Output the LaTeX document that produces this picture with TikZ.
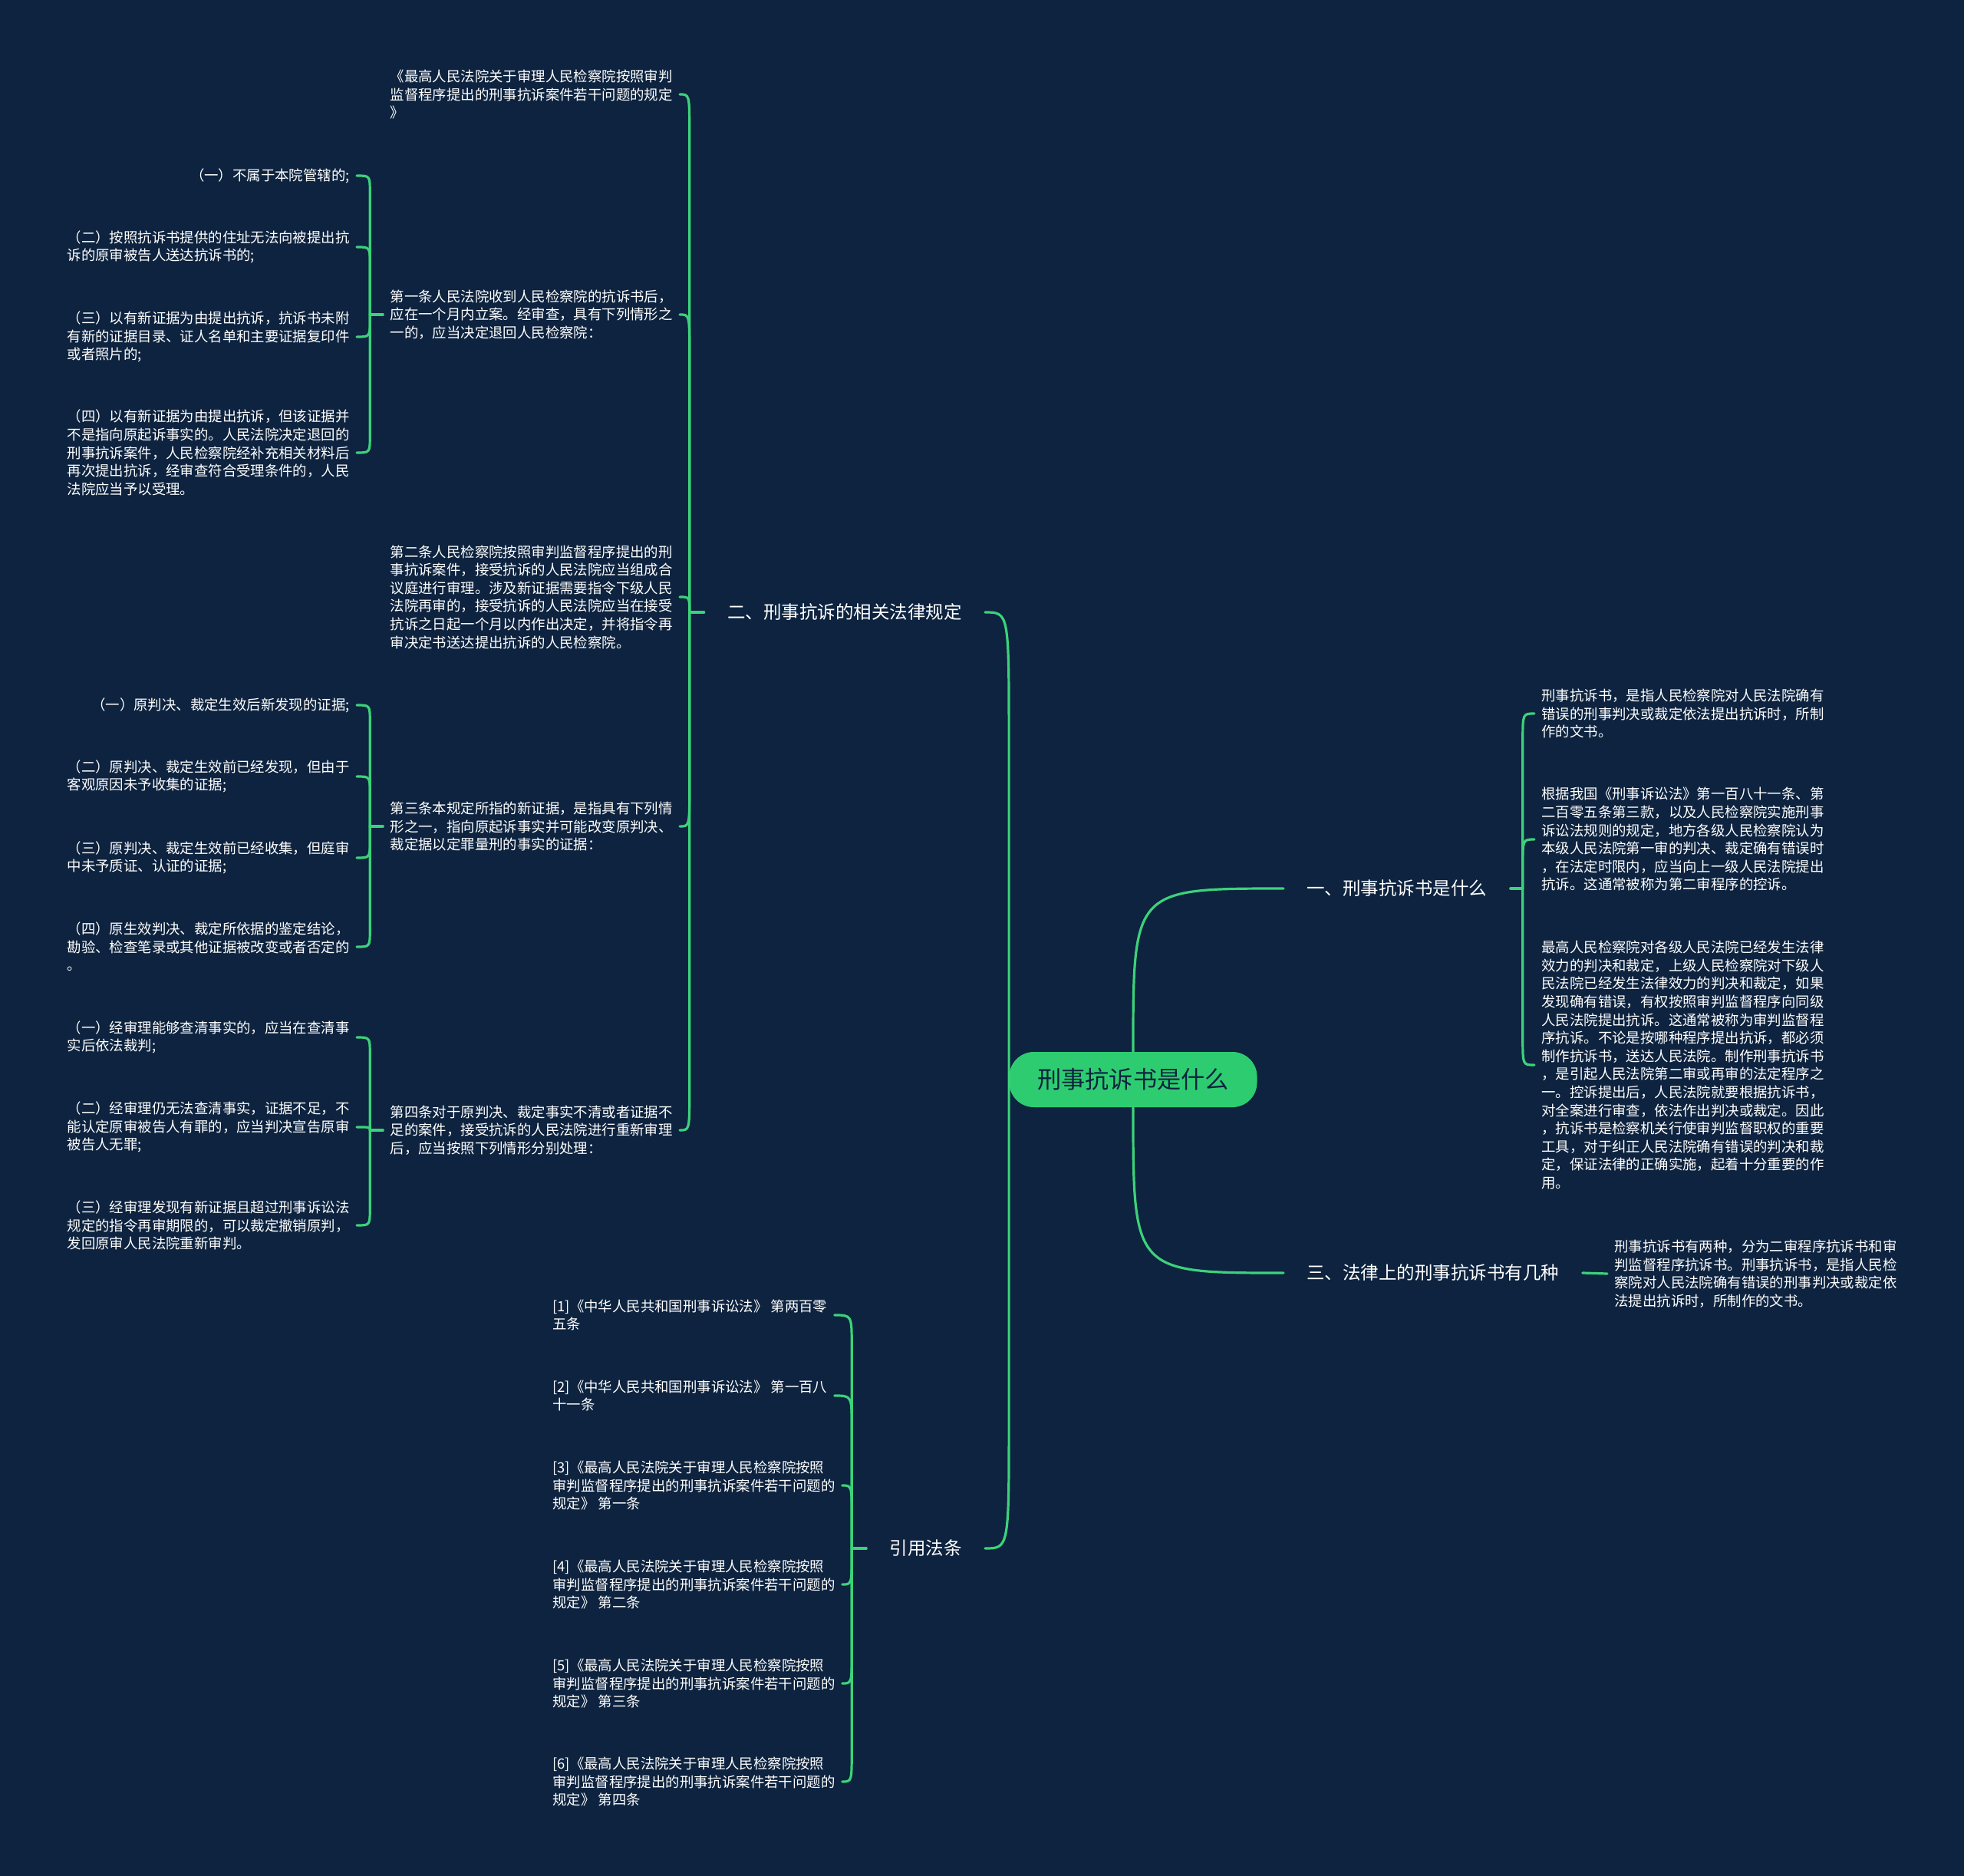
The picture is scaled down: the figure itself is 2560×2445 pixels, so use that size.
\documentclass[tikz,border=0pt]{standalone}
\usepackage{fontspec}
\setmainfont{Noto Sans CJK SC}
\usetikzlibrary{calc}
\definecolor{bgnavy}{RGB}{13,35,63}
\definecolor{linkgreen}{RGB}{60,210,122}
\definecolor{hubgreen}{RGB}{46,204,113}
\newcommand{\brlink}[3]{\draw[link] (#1) -- ($(#1 |- #2)+(0,#3)$) .. controls (#1 |- #2) .. (#2);}
\begin{document}
\begin{tikzpicture}[x=0.5pt,y=-0.5pt,
  link/.style={draw=linkgreen,line width=1.6pt,line cap=round},
  leaf/.style={text=white,align=left,inner xsep=4.5pt,inner ysep=2pt,font=\fontsize{9.2pt}{11.8pt}\selectfont},
  branch/.style={text=white,inner xsep=15pt,inner ysep=4pt,font=\fontsize{11.75pt}{14pt}\selectfont},
  hub/.style={fill=hubgreen,text=bgnavy,rounded corners=16pt,minimum width=161.5pt,minimum height=36pt,inner sep=0pt,font=\fontsize{15.6pt}{18pt}\selectfont}]
\fill[bgnavy] (0,0) rectangle (2560,2445);
\useasboundingbox (0,0) rectangle (2560,2445);

% hub and branches
\node[hub] (hub) at (1477,1407) {刑事抗诉书是什么};
\node[branch,anchor=east] (n2) at (1284,798) {二、刑事抗诉的相关法律规定};
\node[branch,anchor=east] (n4) at (1284,2018) {引用法条};
\node[branch,anchor=west] (n1) at (1673,1158) {一、刑事抗诉书是什么};
\node[branch,anchor=west] (n3) at (1673,1659) {三、法律上的刑事抗诉书有几种};

% branch 二 children
\node[leaf,anchor=east] (m0) at (886,123) {《最高人民法院关于审理人民检察院按照审判\\监督程序提出的刑事抗诉案件若干问题的规定\\》};
\node[leaf,anchor=east] (m1) at (886,410) {第一条人民法院收到人民检察院的抗诉书后，\\应在一个月内立案。经审查，具有下列情形之\\一的，应当决定退回人民检察院：};
\node[leaf,anchor=east] (m2) at (886,778) {第二条人民检察院按照审判监督程序提出的刑\\事抗诉案件，接受抗诉的人民法院应当组成合\\议庭进行审理。涉及新证据需要指令下级人民\\法院再审的，接受抗诉的人民法院应当在接受\\抗诉之日起一个月以内作出决定，并将指令再\\审决定书送达提出抗诉的人民检察院。};
\node[leaf,anchor=east] (m3) at (886,1077) {第三条本规定所指的新证据，是指具有下列情\\形之一，指向原起诉事实并可能改变原判决、\\裁定据以定罪量刑的事实的证据：};
\node[leaf,anchor=east] (m4) at (886,1473) {第四条对于原判决、裁定事实不清或者证据不\\足的案件，接受抗诉的人民法院进行重新审理\\后，应当按照下列情形分别处理：};

% children of 第一条
\node[leaf,anchor=east] (la1) at (465,229) {（一）不属于本院管辖的;};
\node[leaf,anchor=east] (la2) at (465,322) {（二）按照抗诉书提供的住址无法向被提出抗\\诉的原审被告人送达抗诉书的;};
\node[leaf,anchor=east] (la3) at (465,439) {（三）以有新证据为由提出抗诉，抗诉书未附\\有新的证据目录、证人名单和主要证据复印件\\或者照片的;};
\node[leaf,anchor=east] (la4) at (465,590) {（四）以有新证据为由提出抗诉，但该证据并\\不是指向原起诉事实的。人民法院决定退回的\\刑事抗诉案件，人民检察院经补充相关材料后\\再次提出抗诉，经审查符合受理条件的，人民\\法院应当予以受理。};

% children of 第三条
\node[leaf,anchor=east] (lb1) at (465,919) {（一）原判决、裁定生效后新发现的证据;};
\node[leaf,anchor=east] (lb2) at (465,1012) {（二）原判决、裁定生效前已经发现，但由于\\客观原因未予收集的证据;};
\node[leaf,anchor=east] (lb3) at (465,1118) {（三）原判决、裁定生效前已经收集，但庭审\\中未予质证、认证的证据;};
\node[leaf,anchor=east] (lb4) at (465,1234) {（四）原生效判决、裁定所依据的鉴定结论，\\勘验、检查笔录或其他证据被改变或者否定的\\。};

% children of 第四条
\node[leaf,anchor=east] (lc1) at (465,1352) {（一）经审理能够查清事实的，应当在查清事\\实后依法裁判;};
\node[leaf,anchor=east] (lc2) at (465,1469) {（二）经审理仍无法查清事实，证据不足，不\\能认定原审被告人有罪的，应当判决宣告原审\\被告人无罪;};
\node[leaf,anchor=east] (lc3) at (465,1597) {（三）经审理发现有新证据且超过刑事诉讼法\\规定的指令再审期限的，可以裁定撤销原判，\\发回原审人民法院重新审判。};

% references
\node[leaf,anchor=west] (r1) at (711,1714) {[1]《中华人民共和国刑事诉讼法》 第两百零\\五条};
\node[leaf,anchor=west] (r2) at (711,1819) {[2]《中华人民共和国刑事诉讼法》 第一百八\\十一条};
\node[leaf,anchor=west] (r3) at (711,1936) {[3]《最高人民法院关于审理人民检察院按照\\审判监督程序提出的刑事抗诉案件若干问题的\\规定》 第一条};
\node[leaf,anchor=west] (r4) at (711,2065) {[4]《最高人民法院关于审理人民检察院按照\\审判监督程序提出的刑事抗诉案件若干问题的\\规定》 第二条};
\node[leaf,anchor=west] (r5) at (711,2194) {[5]《最高人民法院关于审理人民检察院按照\\审判监督程序提出的刑事抗诉案件若干问题的\\规定》 第三条};
\node[leaf,anchor=west] (r6) at (711,2322) {[6]《最高人民法院关于审理人民检察院按照\\审判监督程序提出的刑事抗诉案件若干问题的\\规定》 第四条};

% branch 一 children
\node[leaf,anchor=west] (k1) at (2000,930) {刑事抗诉书，是指人民检察院对人民法院确有\\错误的刑事判决或裁定依法提出抗诉时，所制\\作的文书。};
\node[leaf,anchor=west] (k2) at (2000,1094) {根据我国《刑事诉讼法》第一百八十一条、第\\二百零五条第三款，以及人民检察院实施刑事\\诉讼法规则的规定，地方各级人民检察院认为\\本级人民法院第一审的判决、裁定确有错误时\\，在法定时限内，应当向上一级人民法院提出\\抗诉。这通常被称为第二审程序的控诉。};
\node[leaf,anchor=west] (k3) at (2000,1388) {最高人民检察院对各级人民法院已经发生法律\\效力的判决和裁定，上级人民检察院对下级人\\民法院已经发生法律效力的判决和裁定，如果\\发现确有错误，有权按照审判监督程序向同级\\人民法院提出抗诉。这通常被称为审判监督程\\序抗诉。不论是按哪种程序提出抗诉，都必须\\制作抗诉书，送达人民法院。制作刑事抗诉书\\，是引起人民法院第二审或再审的法定程序之\\一。控诉提出后，人民法院就要根据抗诉书，\\对全案进行审查，依法作出判决或裁定。因此\\，抗诉书是检察机关行使审判监督职权的重要\\工具，对于纠正人民法院确有错误的判决和裁\\定，保证法律的正确实施，起着十分重要的作\\用。};

% branch 三 child
\node[leaf,anchor=west] (d1) at (2095,1660) {刑事抗诉书有两种，分为二审程序抗诉书和审\\判监督程序抗诉书。刑事抗诉书，是指人民检\\察院对人民法院确有错误的刑事判决或裁定依\\法提出抗诉时，所制作的文书。};

% hub connectors
\brlink{hub.west}{n2.east}{170}
\brlink{hub.west}{n4.east}{-170}
\draw[link] (hub.north) .. controls (hub.north |- n1.west) .. (n1.west);
\draw[link] (hub.south) .. controls (hub.south |- n3.west) .. (n3.west);

% branch 二 brace
\coordinate (j2) at ($(n2.west)+(-19,0)$);
\draw[link] (n2.west) -- (j2);
\brlink{j2}{m0.east}{50}
\brlink{j2}{m1.east}{50}
\brlink{j2}{m2.east}{20}
\brlink{j2}{m3.east}{-50}
\brlink{j2}{m4.east}{-50}

% 第一条 brace
\coordinate (jm1) at ($(m1.west)+(-17,0)$);
\draw[link] (m1.west) -- (jm1);
\brlink{jm1}{la1.east}{22}
\brlink{jm1}{la2.east}{22}
\brlink{jm1}{la3.east}{-22}
\brlink{jm1}{la4.east}{-22}

% 第三条 brace
\coordinate (jm3) at ($(m3.west)+(-17,0)$);
\draw[link] (m3.west) -- (jm3);
\brlink{jm3}{lb1.east}{22}
\brlink{jm3}{lb2.east}{22}
\brlink{jm3}{lb3.east}{-22}
\brlink{jm3}{lb4.east}{-22}

% 第四条 brace
\coordinate (jm4) at ($(m4.west)+(-17,0)$);
\draw[link] (m4.west) -- (jm4);
\brlink{jm4}{lc1.east}{22}
\brlink{jm4}{lc2.east}{3}
\brlink{jm4}{lc3.east}{-22}

% 引用法条 brace
\coordinate (j4) at ($(n4.west)+(-19,0)$);
\draw[link] (n4.west) -- (j4);
\brlink{j4}{r1.east}{40}
\brlink{j4}{r2.east}{40}
\brlink{j4}{r3.east}{40}
\brlink{j4}{r4.east}{-40}
\brlink{j4}{r5.east}{-40}
\brlink{j4}{r6.east}{-40}

% branch 一 brace
\coordinate (j1) at ($(n1.east)+(16,0)$);
\draw[link] (n1.east) -- (j1);
\brlink{j1}{k1.west}{35}
\brlink{j1}{k2.west}{35}
\brlink{j1}{k3.west}{-35}

% branch 三 link
\draw[link] (n3.east) -- (d1.west);
\end{tikzpicture}
\end{document}
